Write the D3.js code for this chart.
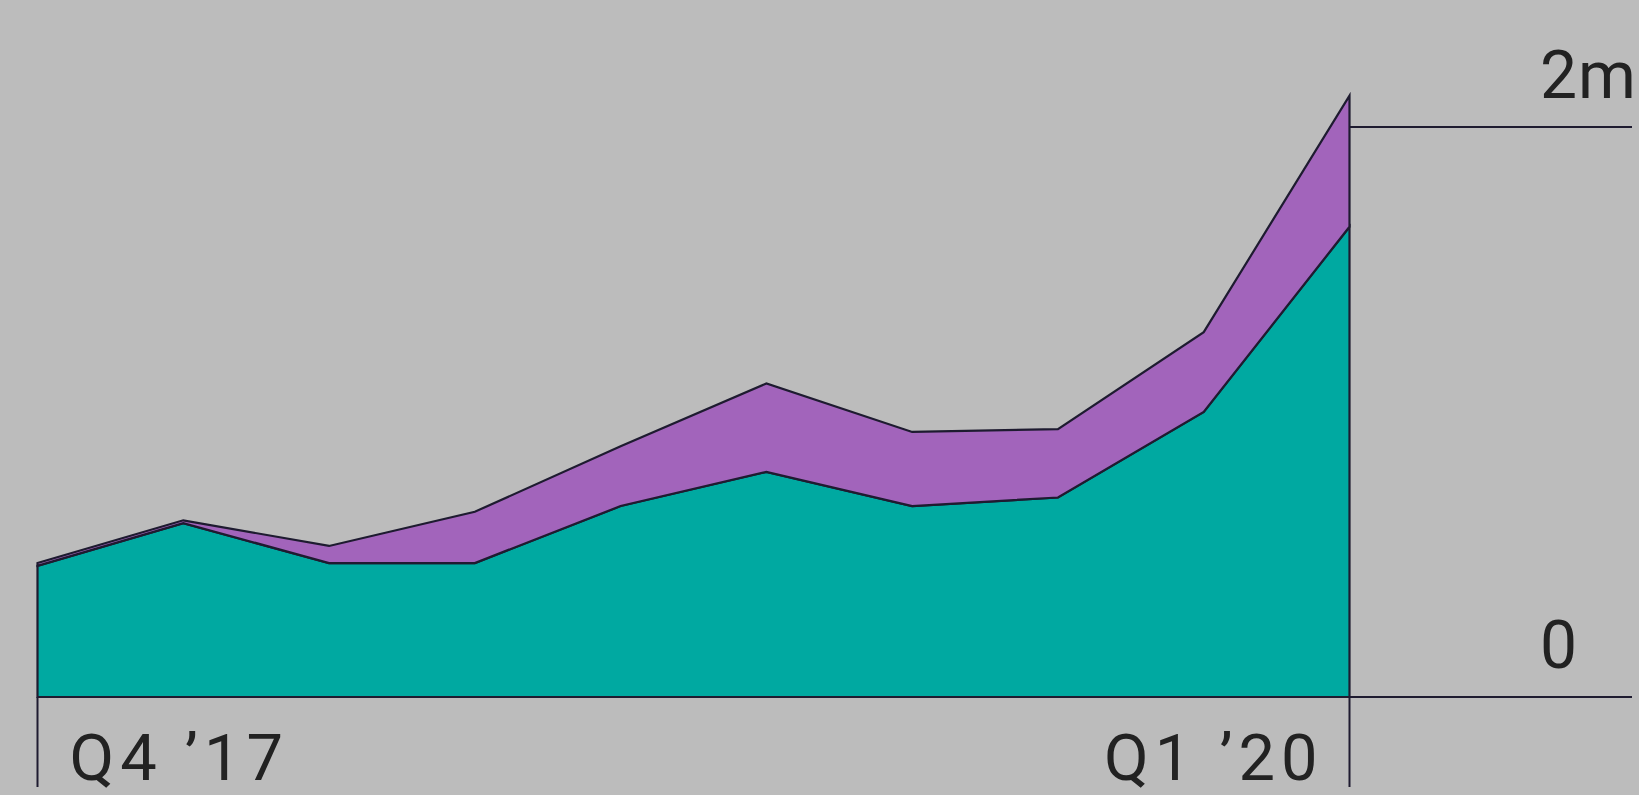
<!DOCTYPE html>
<html>
<head>
<meta charset="utf-8">
<script src="https://cdn.jsdelivr.net/npm/d3@7"></script>
<style>
  html, body { margin: 0; padding: 0; background: #bcbcbc; }
  svg { display: block; }
  text { font-family: Roboto, "Noto Sans", sans-serif; fill: #222; }
</style>
</head>
<body>
<svg id="chart" width="1639" height="795"></svg>
<script>
// Quarterly figures, in millions
const quarters = ["Q4 '17", "Q1 '18", "Q2 '18", "Q3 '18", "Q4 '18", "Q1 '19", "Q2 '19", "Q3 '19", "Q4 '19", "Q1 '20"];
const baseSeries = [0.46, 0.61, 0.47, 0.47, 0.67, 0.79, 0.67, 0.70, 1.00, 1.65];
const topSeries  = [0.01, 0.01, 0.06, 0.18, 0.21, 0.31, 0.26, 0.24, 0.28, 0.46];
const xTickLabels = ["Q4 \u201917", "Q1 \u201920"];
const yTickValues = [0, 2];
const yTickLabels = ["0", "2m"];

const svg = d3.select("#chart");
const plotLeft = 37.5, plotRight = 1349.5, plotTop = 127, plotBottom = 697;
const ink = "#1e1b30";

const x = d3.scalePoint().domain(quarters).range([plotLeft, plotRight]);
const y = d3.scaleLinear().domain([0, 2]).range([plotBottom, plotTop]);

const rows = quarters.map((q, i) => ({ q, base: baseSeries[i], upper: topSeries[i] }));
const layers = d3.stack().keys(["base", "upper"])(rows);
const colors = { base: "#00a9a1", upper: "#a264bb" };

const area = d3.area()
  .x(d => x(d.data.q))
  .y0(d => y(d[0]))
  .y1(d => y(d[1]));

// stacked areas
svg.append("g").selectAll("path")
  .data(layers)
  .join("path")
  .attr("d", area)
  .attr("fill", d => colors[d.key])
  .attr("stroke", ink)
  .attr("stroke-width", 2.2)
  .attr("stroke-linejoin", "miter");

// horizontal reference lines at 0 and 2m, running out to the value labels
const gridEnd = 1632;
svg.append("g").selectAll("line")
  .data(yTickValues)
  .join("line")
  .attr("x1", d => d === 0 ? plotLeft : plotRight)
  .attr("x2", gridEnd)
  .attr("y1", d => y(d))
  .attr("y2", d => y(d))
  .attr("stroke", ink)
  .attr("stroke-width", 2);

// value labels
svg.append("g").selectAll("text")
  .data(yTickValues)
  .join("text")
  .attr("x", 1540)
  .attr("y", d => y(d) - 29)
  .attr("font-size", 66)
  .attr("letter-spacing", 1)
  .text((d, i) => yTickLabels[i]);

// end ticks below the baseline
const xEnds = [quarters[0], quarters[quarters.length - 1]];
svg.append("g").selectAll("line")
  .data(xEnds)
  .join("line")
  .attr("x1", d => x(d))
  .attr("x2", d => x(d))
  .attr("y1", plotBottom)
  .attr("y2", 787)
  .attr("stroke", ink)
  .attr("stroke-width", 2);

// period labels at both ends
svg.append("g").selectAll("text")
  .data(xEnds)
  .join("text")
  .attr("x", (d, i) => i === 0 ? x(d) + 32 : x(d) - 26)
  .attr("y", 780)
  .attr("text-anchor", (d, i) => i === 0 ? "start" : "end")
  .attr("font-size", 65)
  .attr("letter-spacing", 6)
  .text((d, i) => xTickLabels[i]);
</script>
</body>
</html>
